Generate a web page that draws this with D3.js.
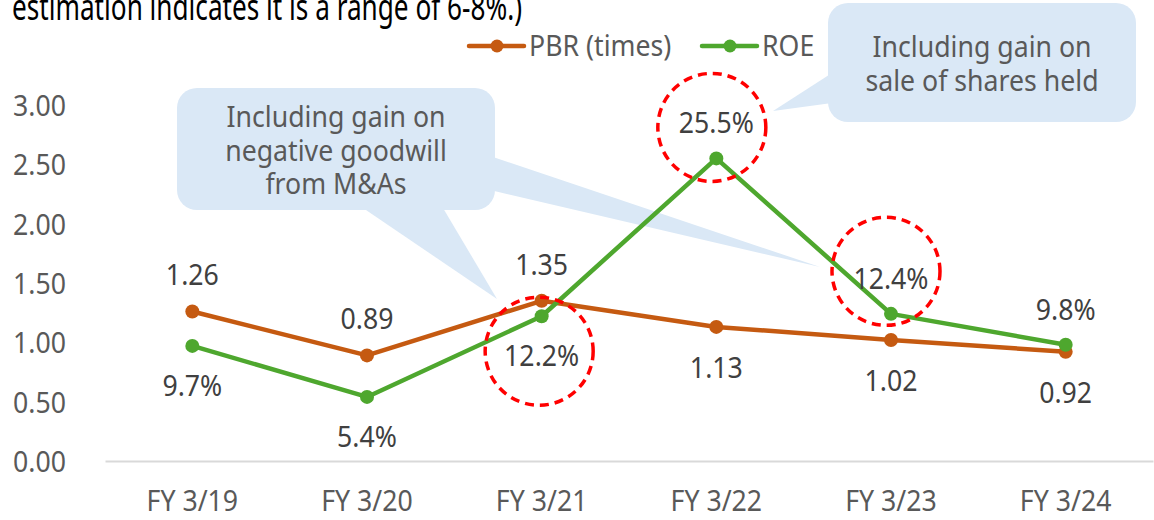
<!DOCTYPE html>
<html>
<head>
<meta charset="utf-8">
<script src="https://cdn.jsdelivr.net/npm/d3@7"></script>
<style>
  html, body { margin: 0; padding: 0; background: #fff; }
  svg { display: block; font-family: "Noto Sans", "Open Sans", sans-serif; }
</style>
</head>
<body>
<svg id="chart" width="1154" height="520"></svg>
<script>
// ---- data ----
const categories = ["FY 3/19", "FY 3/20", "FY 3/21", "FY 3/22", "FY 3/23", "FY 3/24"];
const pbrValues = [1.26, 0.89, 1.35, 1.13, 1.02, 0.92];
const roeValues = [9.7, 5.4, 12.2, 25.5, 12.4, 9.8];          // percent
const pbrLabelPos = ["above", "above", "above", "below", "below", "below"];
const roeLabelPos = ["below", "below", "below", "above", "above", "above"];
const highlighted = [2, 3, 4];                                  // ROE labels circled
const yTicks = [0, 0.5, 1, 1.5, 2, 2.5, 3];
const seriesNames = ["PBR (times)", "ROE"];
const titleText = "estimation indicates it is a range of 6-8%.)";
const note1 = ["Including gain on", "negative goodwill", "from M&As"];
const note2 = ["Including gain on", "sale of shares held"];

const C_PBR = "#c55a11", C_ROE = "#4ea72e", C_TXT = "#595959", C_LBL = "#404040";
const C_NOTE = "#dae8f6";
const FS = 29, SX = 0.92;
const FONT = '"Noto Sans", "Open Sans", sans-serif';

const svg = d3.select("#chart");

const x = d3.scaleBand().domain(categories).range([105, 1153]).paddingInner(0).paddingOuter(0);
const cx = c => x(c) + x.bandwidth() / 2;
const y = d3.scaleLinear().domain([0, 3]).range([461, 105]);

function txt(g, px, py, s, opts = {}) {
  return g.append("text")
    .attr("transform", `translate(${px},${py}) scale(${opts.sx || SX},1)`)
    .attr("text-anchor", opts.anchor || "middle")
    .attr("font-size", opts.size || FS)
    .attr("fill", opts.fill || C_TXT)
    .text(s);
}

// ---- title (cropped at the top edge) ----
svg.append("text")
  .attr("x", 12).attr("y", 20)
  .attr("font-size", 36).attr("fill", "#000")
  .attr("textLength", 510).attr("lengthAdjust", "spacingAndGlyphs")
  .text(titleText);

// ---- callouts (behind lines) ----
const notes = svg.append("g");
notes.append("rect").attr("x", 177).attr("y", 88).attr("width", 318).attr("height", 122)
  .attr("rx", 20).attr("fill", C_NOTE);
notes.append("polygon").attr("points", "363,208 443,208 497,299").attr("fill", C_NOTE);
notes.append("polygon").attr("points", "490,156 490,190 820,267").attr("fill", C_NOTE);
note1.forEach((s, i) => txt(notes, 336, 127 + i * 33.5, s));

notes.append("rect").attr("x", 828).attr("y", 3).attr("width", 308).attr("height", 119)
  .attr("rx", 20).attr("fill", C_NOTE);
notes.append("polygon").attr("points", "832,73 773,111 832,103").attr("fill", C_NOTE);
note2.forEach((s, i) => txt(notes, 982, 57 + i * 33.5, s));

// ---- axes ----
const yAxis = svg.append("g").attr("transform", "translate(66,0)")
  .call(d3.axisLeft(y).tickValues(yTicks).tickFormat(d3.format(".2f")).tickSize(0).tickPadding(0))
  .attr("font-family", FONT).attr("font-size", FS);
yAxis.select(".domain").remove();
yAxis.selectAll("text")
  .attr("fill", C_TXT)
  .attr("dy", "0.36em").attr("x", 0)
  .attr("transform", `scale(${SX},1)`);

const xAxis = svg.append("g").attr("transform", "translate(0,461)")
  .call(d3.axisBottom(x).tickSize(0).tickSizeOuter(0).tickPadding(29))
  .attr("font-family", FONT).attr("font-size", FS);
xAxis.select(".domain").attr("stroke", "#d9d9d9").attr("stroke-width", 2);
xAxis.selectAll("text")
  .attr("fill", C_TXT)
  .attr("transform", `scale(${SX},1)`);

// ---- lines ----
const line = d3.line().x(d => cx(d.c)).y(d => y(d.v));
const pbr = categories.map((c, i) => ({ c, v: pbrValues[i] }));
const roe = categories.map((c, i) => ({ c, v: roeValues[i] / 10 }));

[[pbr, C_PBR], [roe, C_ROE]].forEach(([data, col]) => {
  svg.append("path").datum(data).attr("d", line)
    .attr("fill", "none").attr("stroke", col).attr("stroke-width", 4.5)
    .attr("stroke-linejoin", "round");
  svg.append("g").selectAll("circle").data(data).join("circle")
    .attr("cx", d => cx(d.c)).attr("cy", d => y(d.v)).attr("r", 7).attr("fill", col);
});

// ---- data labels ----
const labels = svg.append("g");
pbr.forEach((d, i) => {
  const ly = pbrLabelPos[i] === "above" ? y(d.v) - 36 : y(d.v) + 41;
  txt(labels, cx(d.c), ly + 10, d3.format(".2f")(pbrValues[i]), { fill: C_LBL });
});
const circleShift = { 2: [-2.5, -5], 3: [-4.5, 4], 4: [-5, -7.5] };   // hand-drawn highlight circles
roe.forEach((d, i) => {
  const ly = roeLabelPos[i] === "above" ? y(d.v) - 35 : y(d.v) + 40;
  txt(labels, cx(d.c), ly + 10, d3.format(".1f")(roeValues[i]) + "%", { fill: C_LBL });
  if (highlighted.includes(i)) {
    const [ox, oy] = circleShift[i];
    labels.append("circle").attr("cx", cx(d.c) + ox).attr("cy", ly + oy).attr("r", 54)
      .attr("fill", "none").attr("stroke", "#ff0000").attr("stroke-width", 3.5)
      .attr("stroke-dasharray", "9,6");
  }
});

// ---- legend ----
const legend = svg.append("g");
[[469, 524, 497, 529, C_PBR, seriesNames[0]], [702, 757, 730, 762, C_ROE, seriesNames[1]]]
  .forEach(([x1, x2, mx, tx, col, name]) => {
    legend.append("line").attr("x1", x1).attr("x2", x2).attr("y1", 46).attr("y2", 46)
      .attr("stroke", col).attr("stroke-width", 4.5).attr("stroke-linecap", "round");
    legend.append("circle").attr("cx", mx).attr("cy", 46).attr("r", 6.5).attr("fill", col);
    txt(legend, tx, 56, name, { anchor: "start" });
  });
</script>
</body>
</html>
